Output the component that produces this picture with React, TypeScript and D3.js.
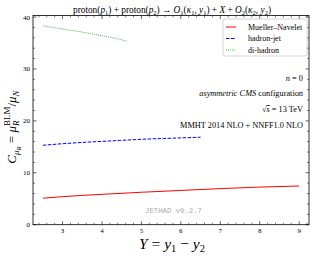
import React from "react";
import * as d3 from "d3";

// Mueller-Navelet (red solid)
const mnY = [2.5, 3, 4, 5, 6, 7, 8, 9];
const mnC = [5.1, 5.4, 5.85, 6.25, 6.6, 6.95, 7.25, 7.45];

// hadron-jet (blue dashed)
const hjY = [2.5, 3, 3.5, 4, 4.5, 5, 5.5, 6, 6.5];
const hjC = [15.3, 15.6, 15.85, 16.05, 16.25, 16.45, 16.6, 16.72, 16.85];

// di-hadron (green dotted)
const dhY = [2.5, 3, 3.5, 4, 4.5, 4.64];
const dhC = [38.3, 37.7, 37.1, 36.4, 35.6, 35.3];

const xTicks = [3, 4, 5, 6, 7, 8, 9];
const yTicks = [0, 10, 20, 30, 40];

const W = 316;
const H = 256;
const left = 33;
const right = 309;
const top = 15.5;
const bottom = 224.7;

const serif = "'Liberation Serif', 'DejaVu Serif', serif";

const App: React.FC = () => {
  const x = d3.scaleLinear().domain([2.25, 9.25]).range([left, right]);
  const y = d3.scaleLinear().domain([0, 40.3]).range([bottom, top]);

  const line = d3
    .line<[number, number]>()
    .x((d) => x(d[0]))
    .y((d) => y(d[1]))
    .curve(d3.curveMonotoneX);

  const series = [
    { name: "Mueller\u2013Navelet", xs: mnY, ys: mnC, color: "#ff0000", dash: "" },
    { name: "hadron-jet", xs: hjY, ys: hjC, color: "#0000ff", dash: "3.5,1.5" },
    { name: "di-hadron", xs: dhY, ys: dhC, color: "#4cb84c", dash: "1,1" },
  ];

  const xMinor = d3.range(2.4, 9.25, 0.2).filter((v) => Math.abs(v - Math.round(v)) > 0.01);
  const yMinor = d3.range(2, 40.3, 2).filter((v) => v % 10 !== 0);

  const legendX = 223;
  const legendRows = [27, 38.5, 50];

  return (
    <svg width={W} height={H} style={{ position: "absolute", left: 0, top: 0 }}>
      <rect width={W} height={H} fill="#fff" />

      {/* title */}
      <text x={172} y={13} textAnchor="middle" fontFamily={serif} fontSize={9.3} fill="#000">
        proton(<tspan fontStyle="italic">p</tspan>
        <tspan fontSize={6.5} dy={2}>1</tspan>
        <tspan dy={-2}>) + proton(</tspan>
        <tspan fontStyle="italic">p</tspan>
        <tspan fontSize={6.5} dy={2}>2</tspan>
        <tspan dy={-2}>) → </tspan>
        <tspan fontStyle="italic">O</tspan>
        <tspan fontSize={6.5} dy={2}>1</tspan>
        <tspan dy={-2}>(</tspan>
        <tspan fontStyle="italic">κ</tspan>
        <tspan fontSize={6.5} dy={2}>1</tspan>
        <tspan dy={-2}>, </tspan>
        <tspan fontStyle="italic">y</tspan>
        <tspan fontSize={6.5} dy={2}>1</tspan>
        <tspan dy={-2}>) + </tspan>
        <tspan fontStyle="italic">X</tspan>
        <tspan> + </tspan>
        <tspan fontStyle="italic">O</tspan>
        <tspan fontSize={6.5} dy={2}>2</tspan>
        <tspan dy={-2}>(</tspan>
        <tspan fontStyle="italic">κ</tspan>
        <tspan fontSize={6.5} dy={2}>2</tspan>
        <tspan dy={-2}>, </tspan>
        <tspan fontStyle="italic">y</tspan>
        <tspan fontSize={6.5} dy={2}>2</tspan>
        <tspan dy={-2}>)</tspan>
      </text>

      {/* data lines */}
      {series.map((s) => (
        <path
          key={s.name}
          d={line(s.xs.map((v, i) => [v, s.ys[i]] as [number, number])) || ""}
          fill="none"
          stroke={s.color}
          strokeWidth={1}
          strokeDasharray={s.dash || undefined}
        />
      ))}

      {/* ticks */}
      {xTicks.map((t) => (
        <g key={"xt" + t}>
          <line x1={x(t)} x2={x(t)} y1={bottom} y2={bottom - 3.5} stroke="#000" strokeWidth={0.6} />
          <line x1={x(t)} x2={x(t)} y1={top} y2={top + 3.5} stroke="#000" strokeWidth={0.6} />
          <text x={x(t)} y={233} textAnchor="middle" fontFamily={serif} fontSize={7} fill="#000">
            {t}
          </text>
        </g>
      ))}
      {xMinor.map((t) => (
        <g key={"xm" + t}>
          <line x1={x(t)} x2={x(t)} y1={bottom} y2={bottom - 2} stroke="#000" strokeWidth={0.5} />
          <line x1={x(t)} x2={x(t)} y1={top} y2={top + 2} stroke="#000" strokeWidth={0.5} />
        </g>
      ))}
      {yTicks.map((t) => (
        <g key={"yt" + t}>
          <line x1={left} x2={left + 3.5} y1={y(t)} y2={y(t)} stroke="#000" strokeWidth={0.6} />
          <line x1={right} x2={right - 3.5} y1={y(t)} y2={y(t)} stroke="#000" strokeWidth={0.6} />
          <text x={30} y={y(t) + 2.5} textAnchor="end" fontFamily={serif} fontSize={7} fill="#000">
            {t}
          </text>
        </g>
      ))}
      {yMinor.map((t) => (
        <g key={"ym" + t}>
          <line x1={left} x2={left + 2} y1={y(t)} y2={y(t)} stroke="#000" strokeWidth={0.5} />
          <line x1={right} x2={right - 2} y1={y(t)} y2={y(t)} stroke="#000" strokeWidth={0.5} />
        </g>
      ))}

      {/* frame */}
      <rect x={left} y={top} width={right - left} height={bottom - top} fill="none" stroke="#000" strokeWidth={0.8} />

      {/* legend */}
      <rect x={legendX} y={19} width={84} height={37} rx={2} fill="#fff" stroke="#ccc" strokeWidth={0.8} />
      {series.map((s, i) => (
        <g key={"lg" + s.name}>
          <line
            x1={legendX + 3}
            x2={legendX + 13}
            y1={legendRows[i]}
            y2={legendRows[i]}
            stroke={s.color}
            strokeWidth={1}
            strokeDasharray={s.dash || undefined}
          />
          <text x={legendX + 25} y={legendRows[i] + 2.7} fontFamily={serif} fontSize={8} fill="#000">
            {s.name}
          </text>
        </g>
      ))}

      {/* annotations */}
      <g fontFamily={serif} fontSize={8.3} fill="#000" textAnchor="end">
        <text x={303} y={80.5}>
          <tspan fontStyle="italic">n</tspan> = 0
        </text>
        <text x={303} y={95.5}>
          <tspan fontStyle="italic">asymmetric CMS</tspan> configuration
        </text>
        <text x={303} y={112}>
          √<tspan textDecoration="overline" fontStyle="italic">s</tspan> = 13 TeV
        </text>
        <text x={303} y={127.5}>MMHT 2014 NLO + NNFF1.0 NLO</text>
      </g>

      {/* watermark */}
      <text x={145} y={213} fontFamily="'Liberation Mono', 'DejaVu Sans Mono', monospace" fontSize={7.3} fill="#aaaaaa">
        JETHAD v0.2.7
      </text>

      {/* x label */}
      <text x={172} y={248.5} textAnchor="middle" fontFamily={serif} fontSize={15.5} fill="#000">
        <tspan fontStyle="italic">Y</tspan> = <tspan fontStyle="italic">y</tspan>
        <tspan fontSize={10.5} dy={3}>1</tspan>
        <tspan dy={-3}> − </tspan>
        <tspan fontStyle="italic">y</tspan>
        <tspan fontSize={10.5} dy={3}>2</tspan>
      </text>

      {/* y label */}
      <text
        transform="translate(16,127) rotate(-90)"
        textAnchor="middle"
        fontFamily={serif}
        fontSize={13}
        fill="#000"
      >
        <tspan fontStyle="italic">C</tspan>
        <tspan fontStyle="italic" fontSize={9} dy={3}>μ</tspan>
        <tspan fontStyle="italic" fontSize={6.5} dy={1.5}>R</tspan>
        <tspan dy={-4.5}> = </tspan>
        <tspan fontStyle="italic">μ</tspan>
        <tspan fontStyle="italic" fontSize={9} dy={3}>R</tspan>
        <tspan fontSize={9} dx={-5.5} dy={-9}>BLM</tspan>
        <tspan dy={6}>/</tspan>
        <tspan fontStyle="italic">μ</tspan>
        <tspan fontStyle="italic" fontSize={9} dy={3}>N</tspan>
      </text>
    </svg>
  );
};

export default App;
